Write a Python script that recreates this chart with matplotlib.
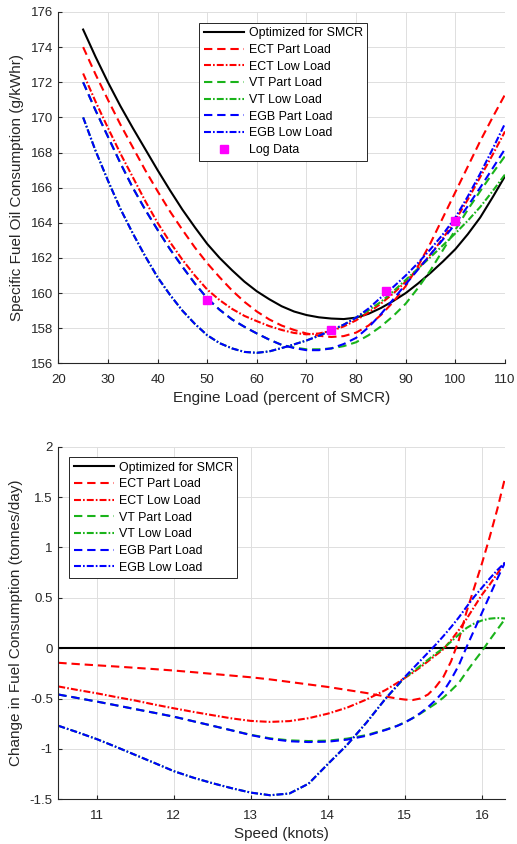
import matplotlib
matplotlib.use("Agg")
import matplotlib.pyplot as plt
from matplotlib.ticker import FuncFormatter

plt.rcParams['font.family'] = ['Liberation Sans', 'DejaVu Sans']
plt.rcParams['font.size'] = 9.5
plt.rcParams['axes.unicode_minus'] = False
plt.rcParams['lines.scale_dashes'] = False

# ---- oberes Diagramm: SFOC ueber Motorlast (2.5 % Schritte) ----
load = [25, 27.5, 30, 32.5, 35, 37.5, 40, 42.5, 45, 47.5, 50, 52.5, 55, 57.5, 60, 62.5,
        65, 67.5, 70, 72.5, 75, 77.5, 80, 82.5, 85, 87.5, 90, 92.5, 95, 97.5, 100, 102.5,
        105, 107.5, 110]
sfoc_smcr = [175.0, 173.45, 172.0, 170.65, 169.4, 168.2, 167.0, 165.85, 164.75, 163.75,
             162.8, 162.0, 161.3, 160.65, 160.1, 159.65, 159.25, 158.95, 158.75, 158.62,
             158.55, 158.52, 158.6, 158.82, 159.15, 159.55, 160.0, 160.55, 161.15, 161.8,
             162.5, 163.35, 164.3, 165.45, 166.65]
sfoc_ect_part = [174.0, 172.45, 171.0, 169.6, 168.3, 167.0, 165.8, 164.65, 163.6, 162.6,
                 161.7, 160.9, 160.15, 159.5, 158.95, 158.5, 158.15, 157.9, 157.7, 157.57,
                 157.5, 157.55, 157.75, 158.15, 158.75, 159.5, 160.4, 161.55, 162.85, 164.3,
                 165.75, 167.2, 168.65, 170.0, 171.3]
sfoc_ect_low = [172.5, 170.9, 169.4, 167.95, 166.6, 165.25, 164.0, 162.9, 161.9, 161.0,
                160.2, 159.6, 159.1, 158.7, 158.4, 158.12, 157.9, 157.73, 157.65, 157.7,
                157.85, 158.1, 158.45, 158.9, 159.4, 159.98, 160.65, 161.38, 162.2, 163.12,
                164.15, 165.32, 166.6, 167.87, 169.2]
sfoc_vt_part = [172.0, 170.4, 168.9, 167.4, 166.0, 164.75, 163.6, 162.5, 161.5, 160.55,
                159.7, 159.05, 158.5, 158.08, 157.7, 157.35, 157.05, 156.9, 156.8, 156.8,
                156.85, 156.98, 157.2, 157.6, 158.1, 158.7, 159.4, 160.3, 161.3, 162.45,
                163.6, 164.75, 165.8, 166.82, 167.8]
sfoc_vt_low = [170.0, 168.1, 166.4, 164.8, 163.4, 162.1, 160.9, 159.9, 159.0, 158.25,
               157.6, 157.15, 156.85, 156.65, 156.6, 156.68, 156.87, 157.08, 157.3, 157.57,
               157.88, 158.2, 158.6, 159.02, 159.5, 160.1, 160.75, 161.4, 162.05, 162.72,
               163.4, 164.12, 164.9, 165.8, 166.75]
sfoc_egb_part = [172.0, 170.4, 168.9, 167.4, 166.0, 164.75, 163.6, 162.5, 161.5, 160.55,
                 159.7, 159.05, 158.5, 158.08, 157.7, 157.35, 157.05, 156.87, 156.75, 156.75,
                 156.85, 157.1, 157.45, 158.05, 158.8, 159.65, 160.5, 161.35, 162.2, 163.05,
                 163.95, 164.95, 166.0, 167.1, 168.2]
sfoc_egb_low = [170.0, 168.1, 166.4, 164.8, 163.4, 162.1, 160.9, 159.9, 159.0, 158.25,
                157.6, 157.15, 156.85, 156.65, 156.6, 156.68, 156.87, 157.08, 157.3, 157.57,
                157.88, 158.2, 158.6, 159.12, 159.75, 160.35, 161.0, 161.72, 162.5, 163.35,
                164.3, 165.5, 166.8, 168.2, 169.65]

log_load = [50, 75, 86, 100]
log_sfoc = [159.6, 157.9, 160.1, 164.1]

# ---- unteres Diagramm: Verbrauchsaenderung ueber Geschwindigkeit ----
speed = [10.5, 10.75, 11, 11.25, 11.5, 11.75, 12, 12.25, 12.5, 12.75, 13, 13.25, 13.5,
         13.75, 14, 14.25, 14.5, 14.75, 14.9, 15.0, 15.1, 15.2, 15.3, 15.4, 15.5, 15.6,
         15.7, 15.8, 15.9, 16.0, 16.1, 16.2, 16.3]
d_smcr = [0.0] * len(speed)
d_ect_part = [-0.145, -0.158, -0.17, -0.182, -0.195, -0.208, -0.222, -0.238, -0.255, -0.272,
              -0.289, -0.31, -0.335, -0.36, -0.385, -0.415, -0.445, -0.48, -0.5, -0.51,
              -0.515, -0.5, -0.46, -0.385, -0.285, -0.13, 0.08, 0.36, 0.6, 0.84, 1.1,
              1.38, 1.69]
d_ect_low = [-0.38, -0.415, -0.448, -0.485, -0.52, -0.56, -0.597, -0.632, -0.665, -0.697,
             -0.722, -0.732, -0.724, -0.695, -0.65, -0.59, -0.51, -0.415, -0.345, -0.295,
             -0.245, -0.19, -0.13, -0.07, -0.01, 0.08, 0.18, 0.29, 0.41, 0.53, 0.63,
             0.74, 0.85]
d_vt_part = [-0.46, -0.495, -0.53, -0.567, -0.605, -0.642, -0.68, -0.725, -0.77, -0.815,
             -0.86, -0.895, -0.915, -0.922, -0.918, -0.898, -0.863, -0.808, -0.77, -0.735,
             -0.695, -0.65, -0.6, -0.55, -0.49, -0.42, -0.345, -0.235, -0.13, -0.03,
             0.08, 0.185, 0.29]
d_vt_low = [-0.77, -0.835, -0.903, -0.98, -1.06, -1.14, -1.221, -1.285, -1.34, -1.39,
            -1.434, -1.46, -1.443, -1.345, -1.15, -0.96, -0.74, -0.5, -0.375, -0.29,
            -0.235, -0.175, -0.115, -0.055, 0.0, 0.065, 0.135, 0.2, 0.245, 0.275, 0.293,
            0.3, 0.295]
d_egb_part = [-0.46, -0.495, -0.53, -0.567, -0.605, -0.642, -0.68, -0.725, -0.77, -0.816,
              -0.863, -0.9, -0.924, -0.932, -0.928, -0.908, -0.87, -0.812, -0.772, -0.738,
              -0.695, -0.645, -0.585, -0.515, -0.43, -0.31, -0.17, 0.01, 0.18, 0.35, 0.52,
              0.69, 0.85]
d_egb_low = [-0.77, -0.835, -0.903, -0.98, -1.06, -1.14, -1.221, -1.285, -1.34, -1.39,
             -1.434, -1.46, -1.443, -1.345, -1.15, -0.96, -0.74, -0.5, -0.37, -0.285,
             -0.205, -0.125, -0.045, 0.035, 0.12, 0.21, 0.305, 0.41, 0.51, 0.6, 0.69,
             0.775, 0.85]

labels = ['Optimized for SMCR', 'ECT Part Load', 'ECT Low Load', 'VT Part Load',
          'VT Low Load', 'EGB Part Load', 'EGB Low Load']

RED = (1, 0, 0)
GREEN = (0.1, 0.7, 0.1)
BLUE = (0, 0, 1)
GRAY = (0.15, 0.15, 0.15)
DASH = (6, 3.5)
DASHDOT = (5, 1.5, 1.2, 1.5)
styles = [('k', None), (RED, DASH), (RED, DASHDOT), (GREEN, DASH), (GREEN, DASHDOT),
          (BLUE, DASH), (BLUE, DASHDOT)]


def matlab_axes(ax):
    ax.spines['top'].set_visible(False)
    ax.spines['right'].set_visible(False)
    for s in ('left', 'bottom'):
        ax.spines[s].set_color(GRAY)
        ax.spines[s].set_linewidth(0.8)
    ax.tick_params(direction='in', length=3, colors=GRAY, labelsize=9.5)
    ax.tick_params(axis='x', pad=7.5)
    ax.tick_params(axis='y', pad=4)
    ax.grid(True, color=(0.87, 0.87, 0.87), linewidth=0.7)
    ax.set_axisbelow(True)


def zeichnen(ax, x, serien):
    for (farbe, dash), y, lab in zip(styles, serien, labels):
        if dash is None:
            ax.plot(x, y, color=farbe, linewidth=1.5, label=lab)
        else:
            ax.plot(x, y, color=farbe, linewidth=1.5, dashes=dash, label=lab)


def legende(ax, anker):
    leg = ax.legend(loc='upper left', bbox_to_anchor=anker, borderaxespad=0,
                    fancybox=False, framealpha=1, edgecolor=GRAY, handlelength=3.3,
                    handletextpad=0.35, labelspacing=0.38, borderpad=0.35, numpoints=1,
                    fontsize=8.9)
    leg.get_frame().set_linewidth(0.7)


fig = plt.figure(figsize=(5.17, 8.44), dpi=100)

# oberes Diagramm
ax1 = fig.add_axes([0.1128, 0.5695, 0.864, 0.4163])
matlab_axes(ax1)
zeichnen(ax1, load, [sfoc_smcr, sfoc_ect_part, sfoc_ect_low, sfoc_vt_part, sfoc_vt_low,
                     sfoc_egb_part, sfoc_egb_low])
ax1.plot(log_load, log_sfoc, 's', color=(1, 0, 1), markersize=5.5, label='Log Data')
ax1.set_xlim(20, 110)
ax1.set_ylim(156, 176)
ax1.set_xticks(range(20, 111, 10))
ax1.set_yticks(range(156, 177, 2))
ax1.set_xlabel('Engine Load (percent of SMCR)', fontsize=11, color=GRAY, labelpad=4)
ax1.set_ylabel('Specific Fuel Oil Consumption (g/kWhr)', fontsize=11, color=GRAY, labelpad=5)
legende(ax1, (0.3157, 0.9687))

# unteres Diagramm
ax2 = fig.add_axes([0.1128, 0.053, 0.864, 0.4177])
matlab_axes(ax2)
zeichnen(ax2, speed, [d_smcr, d_ect_part, d_ect_low, d_vt_part, d_vt_low,
                      d_egb_part, d_egb_low])
ax2.set_xlim(10.5, 16.3)
ax2.set_ylim(-1.5, 2)
ax2.set_xticks(range(11, 17))
ax2.set_yticks([-1.5, -1, -0.5, 0, 0.5, 1, 1.5, 2])
ax2.yaxis.set_major_formatter(FuncFormatter(lambda v, p: '%g' % v))
ax2.set_xlabel('Speed (knots)', fontsize=11, color=GRAY, labelpad=4)
ax2.set_ylabel('Change in Fuel Consumption (tonnes/day)', fontsize=11, color=GRAY, labelpad=5)
legende(ax2, (0.0246, 0.970))

fig.savefig('out.png', dpi=100)
